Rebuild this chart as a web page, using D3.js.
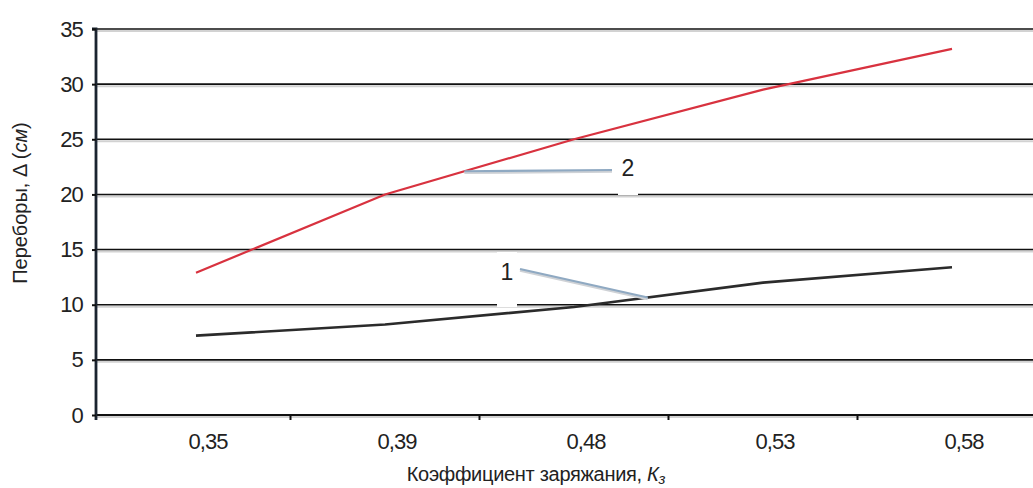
<!DOCTYPE html>
<html>
<head>
<meta charset="utf-8">
<script src="https://cdn.jsdelivr.net/npm/d3@7"></script>
<style>
  html, body { margin: 0; padding: 0; background: #fff; }
  svg { display: block; }
  text { font-family: "Liberation Sans", Arial, sans-serif; fill: #222; }
</style>
</head>
<body>
<svg id="chart" width="1033" height="488"></svg>
<script>
// ---- data ----
const categories = ["0,35", "0,39", "0,48", "0,53", "0,58"];
const series1 = [7.2, 8.2, 9.8, 12.0, 13.4];    // curve 1 (black)
const series2 = [12.9, 20.0, 25.0, 29.5, 33.2]; // curve 2 (red)
const yTicks = [0, 5, 10, 15, 20, 25, 30, 35];
const seriesNames = ["1", "2"];

// ---- layout ----
const axisX = 96, plotRight = 1033;
const yTop = 29, yBottom = 415;

const svg = d3.select("#chart");

const x = d3.scalePoint().domain(categories).range([196, 952]);
const y = d3.scaleLinear().domain([0, 35]).range([yBottom, yTop]);

// gridlines with soft shadow
const grid = svg.append("g");
yTicks.forEach(t => {
  grid.append("line")
    .attr("x1", axisX).attr("x2", plotRight)
    .attr("y1", y(t) + 2).attr("y2", y(t) + 2)
    .attr("stroke", "#d2d2d2").attr("stroke-width", 2);
  grid.append("line")
    .attr("x1", axisX).attr("x2", plotRight)
    .attr("y1", y(t)).attr("y2", y(t))
    .attr("stroke", "#111").attr("stroke-width", t === 0 ? 2.2 : 1.6);
});

// y axis
const yAxis = d3.axisLeft(y).tickValues(yTicks).tickSize(4).tickPadding(9).tickFormat(d3.format("d"));
const gy = svg.append("g").attr("transform", `translate(${axisX},0)`).call(yAxis);
gy.select(".domain").attr("stroke", "#1b2430").attr("stroke-width", 2.8)
  .attr("d", `M-4,${yTop}H0V${yBottom + 5}`);
gy.selectAll(".tick line").attr("stroke", "#111").attr("stroke-width", 2);
gy.selectAll(".tick text").attr("font-size", 22).attr("fill", "#2a2a2a")
  .attr("letter-spacing", -0.8)
  .style("font-family", '"Liberation Sans", Arial, sans-serif');

// x axis: category boundary ticks and labels
const step = x.step();
const boundaries = categories.slice(0, -1).map(c => x(c) + step / 2);
const gx = svg.append("g").attr("transform", `translate(0,${yBottom})`);
gx.selectAll("line.bt").data(boundaries).enter().append("line")
  .attr("class", "bt")
  .attr("x1", d => d).attr("x2", d => d)
  .attr("y1", 0).attr("y2", 5)
  .attr("stroke", "#111").attr("stroke-width", 2);
gx.selectAll("text.xl").data(categories).enter().append("text")
  .attr("class", "xl")
  .attr("x", d => x(d) + 12)
  .attr("y", 34)
  .attr("text-anchor", "middle")
  .attr("font-size", 22)
  .attr("letter-spacing", -1)
  .attr("fill", "#2a2a2a")
  .text(d => d);

// lines
const line = d3.line().x((d, i) => x(categories[i])).y(d => y(d));
svg.append("path").datum(series2)
  .attr("d", line).attr("fill", "none")
  .attr("stroke", "#d8323f").attr("stroke-width", 2.2);
svg.append("path").datum(series1)
  .attr("d", line).attr("fill", "none")
  .attr("stroke", "#2b2b2b").attr("stroke-width", 2.6);

// callout labels
function callout(name, lx, ly, tx, ty, boxTop, boxBottom, seriesVals, idxFrac) {
  const i0 = Math.floor(idxFrac), f = idxFrac - i0;
  const px = x(categories[i0]) + f * step;
  const py = y(seriesVals[i0] + f * (seriesVals[i0 + 1] - seriesVals[i0]));
  svg.append("rect").attr("x", tx - 10).attr("y", ty - boxTop).attr("width", 20)
    .attr("height", boxTop + boxBottom).attr("fill", "#fff");
  svg.append("line").attr("x1", lx).attr("y1", ly + 1.5).attr("x2", px).attr("y2", py + 1.5)
    .attr("stroke", "#cfd2d6").attr("stroke-width", 2.5);
  svg.append("line").attr("x1", lx).attr("y1", ly).attr("x2", px).attr("y2", py)
    .attr("stroke", "#8fa9c2").attr("stroke-width", 2.2);
  svg.append("text").attr("x", tx).attr("y", ty + 8).attr("text-anchor", "middle")
    .attr("font-size", 23).attr("fill", "#1a1a1a").text(name);
}
callout(seriesNames[1], 612, 170, 628, 168, 20, 27, series2, 1.42);
callout(seriesNames[0], 520, 269, 507, 272, 20, 35, series1, 2.39);

// axis titles
const xt = svg.append("text").attr("x", 536).attr("y", 481).attr("text-anchor", "middle")
  .attr("font-size", 20).attr("letter-spacing", -0.3).attr("fill", "#2a2a2a");
xt.append("tspan").text("Коэффициент заряжания, ");
xt.append("tspan").attr("font-style", "italic").text("К");
xt.append("tspan").attr("font-style", "italic").attr("font-size", 15).attr("dy", 3).text("з");

const yt = svg.append("text")
  .attr("transform", "translate(27,203) rotate(-90)")
  .attr("text-anchor", "middle").attr("font-size", 20).attr("fill", "#2a2a2a");
yt.append("tspan").text("Переборы, Δ (");
yt.append("tspan").attr("font-style", "italic").text("см");
yt.append("tspan").text(")");
</script>
</body>
</html>
